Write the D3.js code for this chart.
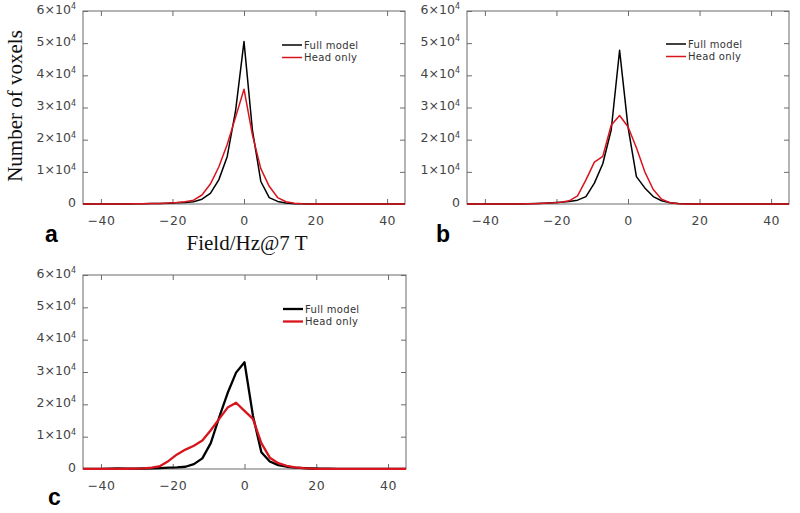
<!DOCTYPE html>
<html><head><meta charset="utf-8">
<script src="https://cdn.jsdelivr.net/npm/d3@7"></script>
<style>body{margin:0;background:#fff}</style>
</head><body>
<svg id="chart" width="800" height="513"></svg>
<script>
// Bin centres (Hz) of the field histograms
const fieldHz = [-47,-44.65,-42.3,-39.95,-37.6,-35.25,-32.9,-30.55,-28.2,-25.85,-23.5,-21.15,-18.8,-16.45,-14.1,-11.75,-9.4,-7.05,-4.7,-2.35,0,2.35,4.7,7.05,9.4,11.75,14.1,16.45,18.8,21.15,23.5,25.85,28.2,30.55,32.9,35.25,37.6,39.95,42.3,44.65,47];

const aFull = [0,0,0,0,10,20,30,50,80,120,180,250,350,500,700,1500,3300,7500,14700,29000,50500,23000,7000,2000,800,300,100,40,0,0,0,0,0,0,0,0,0,0,0,0,0];
const aHead = [0,0,0,0,10,20,30,50,80,120,180,280,450,700,1200,2800,6200,11500,18500,27000,35700,21500,11000,5500,2000,700,250,80,20,0,0,0,0,0,0,0,0,0,0,0,0];

const bFull = [0,0,0,0,0,0,0,30,80,150,250,400,550,750,1200,2300,6500,12500,23000,47800,24000,8500,5000,2300,1000,400,150,50,0,0,0,0,0,0,0,0,0,0,0,0,0];
const bHead = [0,0,0,0,0,0,0,20,50,100,200,350,550,1000,2500,7500,13000,14800,24500,27500,24000,17500,10000,4500,1500,400,100,30,0,0,0,0,0,0,0,0,0,0,0,0,0];

const cFull = [0,0,0,50,100,150,100,100,150,200,300,400,500,700,1500,3300,8000,16000,23500,29800,33000,16500,5200,2300,1200,700,400,250,150,100,80,60,40,20,0,0,0,0,0,0,0];
const cHead = [0,0,0,0,30,60,80,120,200,400,900,2500,4500,6000,7200,8800,12000,15500,19000,20500,18000,15500,8000,3500,1800,1000,500,250,100,50,20,0,0,0,0,0,0,0,0,0,0,0];

const xTicks = [-40,-20,0,20,40];
const yTicks = [0,10000,20000,30000,40000,50000,60000];
const yTickMantissa = ["0","1","2","3","4","5","6"];
const seriesNames = ["Full model","Head only"];
const seriesColors = ["#000000","#d8141c"];

const panels = [
  {id:"a", full:aFull, head:aHead, x0:83, x1:405, y0:11, y1:204, lw:1.5, label:[45,242], legend:[282,45]},
  {id:"b", full:bFull, head:bHead, x0:467, x1:789, y0:11, y1:204, lw:1.5, label:[436,242], legend:[666,44]},
  {id:"c", full:cFull, head:cHead, x0:83, x1:406, y0:275, y1:469, lw:2.3, label:[48,505], legend:[283,309]}
];

const svg = d3.select("#chart");
const frameColor = "#6a6a6a";
const tickFont = "'DejaVu Sans', sans-serif";

panels.forEach((p, pi) => {
  const x = d3.scaleLinear().domain([-45,45]).range([p.x0,p.x1]);
  const y = d3.scaleLinear().domain([0,60000]).range([p.y1,p.y0]);
  const g = svg.append("g");

  const clipId = "clip" + p.id;
  svg.append("clipPath").attr("id", clipId).append("rect")
    .attr("x", p.x0).attr("y", p.y0 - 2).attr("width", p.x1 - p.x0).attr("height", p.y1 - p.y0 + 3);

  const xb = g.append("g").attr("transform", `translate(0,${p.y1})`)
    .call(d3.axisBottom(x).tickValues(xTicks).tickSize(-5).tickPadding(12)
      .tickFormat(d => d < 0 ? "\u2212" + Math.abs(d) : String(d)));
  const xt = g.append("g").attr("transform", `translate(0,${p.y0})`)
    .call(d3.axisTop(x).tickValues(xTicks).tickSize(-5).tickFormat(""));
  const yl = g.append("g").attr("transform", `translate(${p.x0},0)`)
    .call(d3.axisLeft(y).tickValues(yTicks).tickSize(-5).tickPadding(7).tickFormat(""));
  const yr = g.append("g").attr("transform", `translate(${p.x1},0)`)
    .call(d3.axisRight(y).tickValues(yTicks).tickSize(-5).tickFormat(""));

  [xb, xt, yl, yr].forEach(ax => {
    ax.select(".domain").remove();
    ax.selectAll("line").attr("stroke", frameColor);
  });
  xb.selectAll("text").attr("font-family", tickFont).attr("font-size", 12.5).attr("fill", "#444")
    .attr("letter-spacing", "0.5px");

  yl.selectAll(".tick").each(function(d, i) {
    const t = d3.select(this).append("text")
      .attr("x", -7).attr("y", -2).attr("dy", "0.32em").attr("text-anchor", "end")
      .attr("font-family", tickFont).attr("font-size", 12.5).attr("fill", "#444");
    if (d === 0) { t.text("0"); }
    else {
      t.append("tspan").text(yTickMantissa[i] + "\u00d710");
      t.append("tspan").attr("font-size", 8).attr("dy", "-0.55em").text("4");
    }
  });

  g.append("rect").attr("x", p.x0).attr("y", p.y0).attr("width", p.x1 - p.x0).attr("height", p.y1 - p.y0)
    .attr("fill", "none").attr("stroke", frameColor).attr("stroke-width", 1);

  const line = d3.line().x((d, i) => x(fieldHz[i])).y(d => y(d));
  const lg = g.append("g").attr("clip-path", `url(#${clipId})`);
  lg.append("path").datum(p.full).attr("d", line).attr("fill", "none")
    .attr("stroke", seriesColors[0]).attr("stroke-width", p.lw).attr("stroke-linejoin", "round");
  lg.append("path").datum(p.head).attr("d", line).attr("fill", "none")
    .attr("stroke", seriesColors[1]).attr("stroke-width", p.lw).attr("stroke-linejoin", "round");

  seriesNames.forEach((name, k) => {
    const ly = p.legend[1] + k * 12.5;
    g.append("line").attr("x1", p.legend[0]).attr("x2", p.legend[0] + 20)
      .attr("y1", ly).attr("y2", ly).attr("stroke", seriesColors[k]).attr("stroke-width", p.lw);
    g.append("text").attr("x", p.legend[0] + 22).attr("y", ly + 3.5)
      .attr("font-family", tickFont).attr("font-size", 10).attr("fill", "#333")
      .attr("letter-spacing", "0.3px").text(name);
  });

  svg.append("text").attr("x", p.label[0]).attr("y", p.label[1])
    .attr("font-family", "'Liberation Sans', Arial, sans-serif").attr("font-weight", "bold")
    .attr("font-size", 23).attr("fill", "#000").text(p.id);
});

svg.append("text").attr("transform", "translate(22,106) rotate(-90)").attr("text-anchor", "middle")
  .attr("font-family", "'Liberation Serif', 'Times New Roman', serif").attr("font-size", 21).attr("fill", "#111")
  .text("Number of voxels");
svg.append("text").attr("x", 247).attr("y", 250).attr("text-anchor", "middle")
  .attr("font-family", "'Liberation Serif', 'Times New Roman', serif").attr("font-size", 21).attr("fill", "#111")
  .text("Field/Hz@7 T");
</script>
</body></html>
